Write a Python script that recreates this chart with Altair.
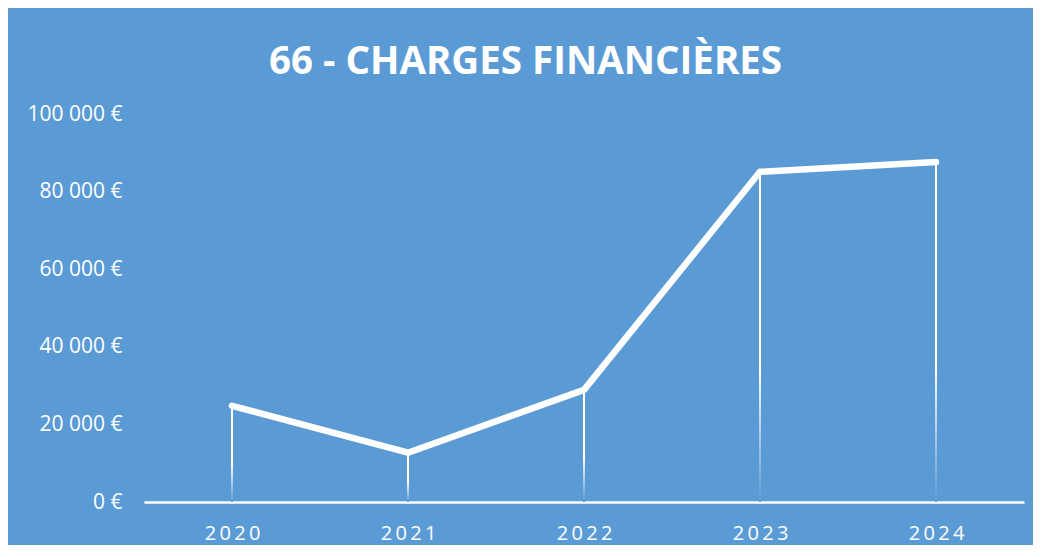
import altair as alt
import pandas as pd

years = ["2020", "2021", "2022", "2023", "2024"]
charges = [24800, 12700, 28900, 85100, 87600]
y_ticks = [0, 20000, 40000, 60000, 80000, 100000]

BG = "#5B9BD5"
df = pd.DataFrame({"year": years, "value": charges})

x = alt.X("year:N", sort=years,
          scale=alt.Scale(type="point", padding=0.5),
          axis=alt.Axis(title=None, labelAngle=0, labelColor="white", labelFont="Open Sans",
                        labelFontSize=20, labelPadding=21, ticks=False,
                        labelExpr="join(split(datum.label, ''), '\u2009')",
                        domainColor="white", domainWidth=2.5, grid=False))
y = alt.Y("value:Q",
          scale=alt.Scale(domain=[0, 100000], nice=False),
          axis=alt.Axis(title=None, values=y_ticks, labelColor="white", labelFont="Open Sans",
                        labelFontSize=21, labelPadding=22, ticks=False, domain=False,
                        grid=False,
                        labelExpr="replace(format(datum.value, ',d'), /,/g, ' ') + ' €'"))

gradient = alt.Gradient(
    gradient="linear", x1=0, y1=0, x2=0, y2=1,
    stops=[alt.GradientStop(color="white", offset=0),
           alt.GradientStop(color="white", offset=0.6),
           alt.GradientStop(color=BG, offset=1)])

drops = alt.Chart(df).mark_bar(size=2, fill=gradient).encode(x=x, y=y, y2=alt.datum(0))
line = alt.Chart(df).mark_line(color="white", strokeWidth=6.5, strokeCap="round",
                               strokeJoin="round").encode(x=x, y=y)

chart = (drops + line).properties(
    width=880, height=388,
    background=BG,
    padding={"left": 136, "top": 106, "right": 9, "bottom": 43},
    autosize=alt.AutoSizeParams(type="none"),
    title=alt.Title("66 - CHARGES FINANCIÈRES", color="white", font="Open Sans",
                    fontSize=38.5, fontWeight="bold", anchor="middle", frame="bounds",
                    offset=21),
).configure_view(stroke=None)

chart.save("out.html", embed_options={"renderer": "svg", "actions": False})
